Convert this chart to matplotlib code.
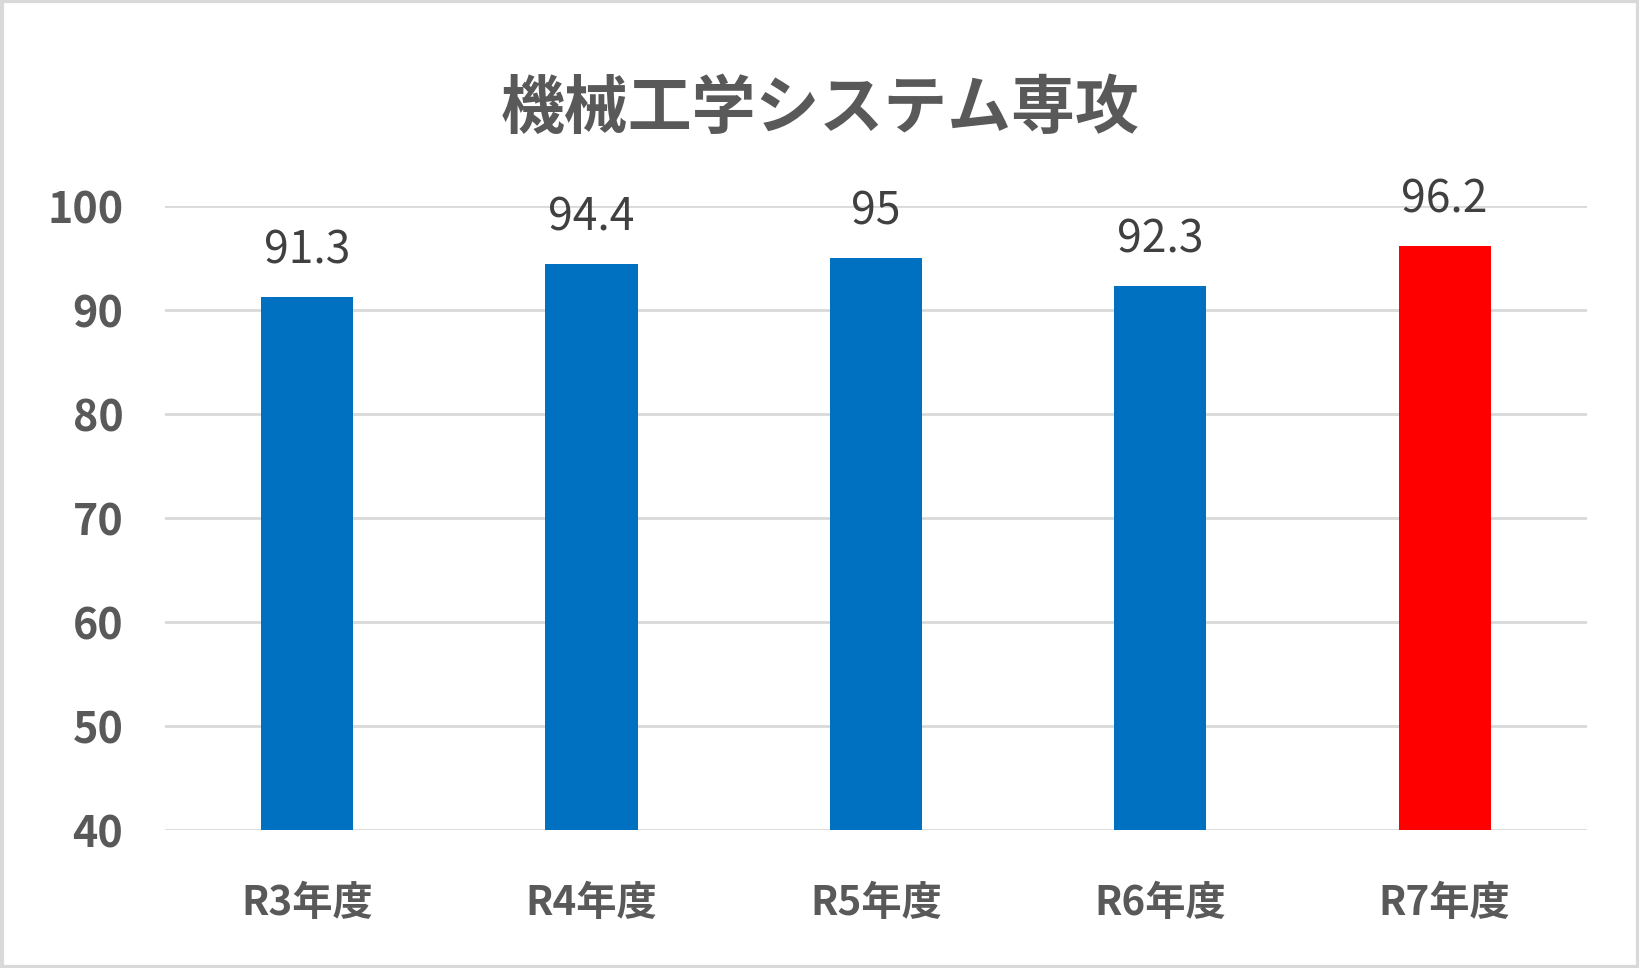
import matplotlib.pyplot as plt
from matplotlib.patches import Rectangle

plt.rcParams['font.family'] = ['Noto Sans CJK JP', 'DejaVu Sans']

title = "機械工学システム専攻"
years = ["R3年度", "R4年度", "R5年度", "R6年度", "R7年度"]
rates = [91.3, 94.4, 95, 92.3, 96.2]
bar_colors = ["#0070C0", "#0070C0", "#0070C0", "#0070C0", "#FF0000"]
y_ticks = [40, 50, 60, 70, 80, 90, 100]

fig = plt.figure(figsize=(16.4, 9.68), dpi=100)
ax = fig.add_axes([0.1006, 0.1426, 0.867, 0.6444])

x = list(range(len(years)))
bars = ax.bar(x, rates, width=0.324, color=bar_colors, zorder=3)

for xi, v in zip(x, rates):
    ax.annotate(f"{v:g}", (xi, v), xytext=(0, 17), textcoords="offset points",
                ha="center", va="bottom", fontsize=32, color="#404040",
                annotation_clip=False)

ax.set_xlim(-0.5, len(years) - 0.5)
ax.set_ylim(40, 100)
ax.set_yticks(y_ticks)
ax.set_yticklabels([str(t) for t in y_ticks], fontsize=31, fontweight="bold",
                   color="#595959")
ax.set_xticks(x)
ax.set_xticklabels(years, fontsize=29, fontweight="bold", color="#595959")
ax.tick_params(axis="y", length=0, pad=30)
ax.tick_params(axis="x", length=0, pad=38)
ax.grid(axis="y", color="#d9d9d9", linewidth=2, zorder=0)
for s in ax.spines.values():
    s.set_visible(False)

fig.text(0.5, 0.887, title, ha="center", va="center", fontsize=46,
         fontweight="bold", color="#595959")

fig.patches.append(Rectangle((0.001, 0.001), 0.998, 0.998, transform=fig.transFigure,
                             fill=False, edgecolor="#d9d9d9", linewidth=3))

fig.savefig("out.png", dpi=100)
